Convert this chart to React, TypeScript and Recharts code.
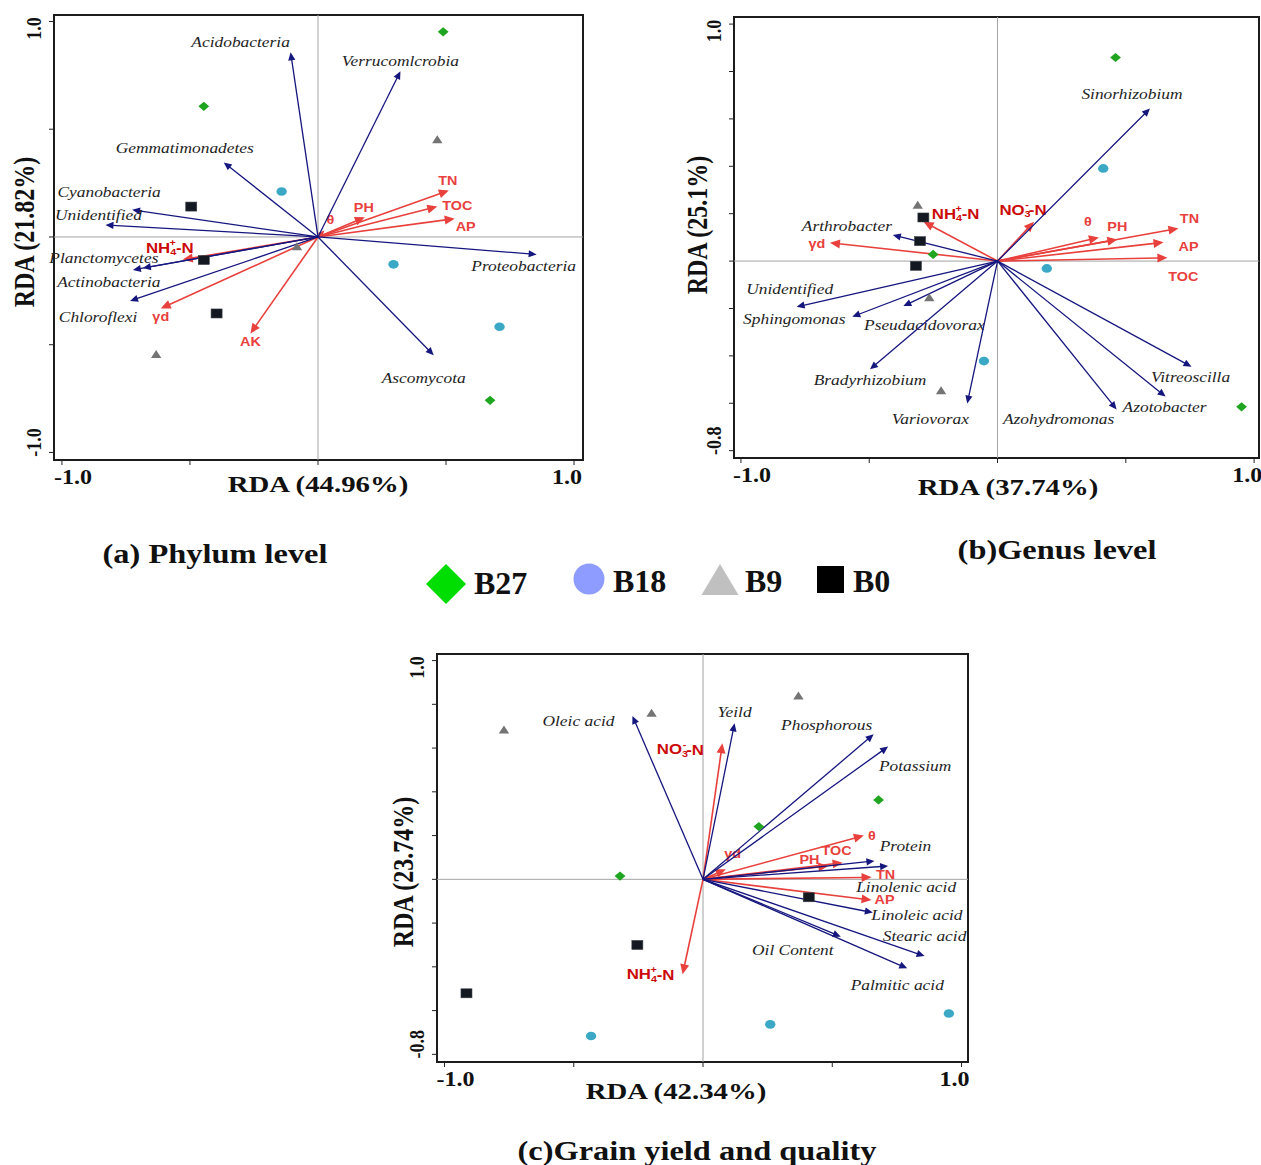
import React from 'react';
import { ScatterChart, Scatter, XAxis, YAxis, ReferenceLine, ReferenceArea } from 'recharts';

const SERIF = '"Liberation Serif", "Times New Roman", serif';
const SANS = '"Liberation Sans", Arial, sans-serif';
const STRETCH = 1.2;

const NAVY = '#16167f';
const RED = '#e8403c';
const DARK_RED = '#cc0a0a';

type Pt = { x: number; y: number };
type Vec = { name: string; x: number; y: number };

// ---------- (a) Phylum level ----------
const A_B27: Pt[] = [{ x: 0.489, y: 0.952 }, { x: -0.446, y: 0.606 }, { x: 0.672, y: -0.758 }];
const A_B18: Pt[] = [{ x: -0.142, y: 0.211 }, { x: 0.295, y: -0.127 }, { x: 0.709, y: -0.417 }];
const A_B9: Pt[] = [{ x: 0.466, y: 0.451 }, { x: -0.082, y: -0.045 }, { x: -0.632, y: -0.546 }];
const A_B0: Pt[] = [{ x: -0.495, y: 0.141 }, { x: -0.446, y: -0.107 }, { x: -0.396, y: -0.355 }];

const A_TAXA: Vec[] = [
  { name: 'Acidobacteria', x: -0.107, y: 0.857 },
  { name: 'Verrucomlcrobia', x: 0.322, y: 0.769 },
  { name: 'Gemmatimonadetes', x: -0.368, y: 0.346 },
  { name: 'Cyanobacteria', x: -0.726, y: 0.126 },
  { name: 'Unidentified', x: -0.83, y: 0.056 },
  { name: 'Proteobacteria', x: 0.854, y: -0.081 },
  { name: 'Planctomycetes', x: -0.723, y: -0.153 },
  { name: 'Actinobacteria', x: -0.684, y: -0.144 },
  { name: 'Chloroflexi', x: -0.734, y: -0.297 },
  { name: 'Ascomycota', x: 0.452, y: -0.549 },
];
const A_ENV: Vec[] = [
  { name: 'TN', x: 0.511, y: 0.216 },
  { name: 'TOC', x: 0.466, y: 0.141 },
  { name: 'AP', x: 0.534, y: 0.085 },
  { name: 'PH', x: 0.183, y: 0.091 },
  { name: 'θ', x: 0.025, y: 0.03 },
  { name: 'NH4+-N', x: -0.528, y: -0.105 },
  { name: 'γd', x: -0.614, y: -0.332 },
  { name: 'AK', x: -0.264, y: -0.448 },
];

// ---------- (b) Genus level ----------
const B_B27: Pt[] = [{ x: 0.46, y: 0.859 }, { x: -0.251, y: 0.028 }, { x: 0.951, y: -0.615 }];
const B_B18: Pt[] = [{ x: 0.412, y: 0.391 }, { x: 0.192, y: -0.031 }, { x: -0.053, y: -0.422 }];
const B_B9: Pt[] = [{ x: -0.311, y: 0.236 }, { x: -0.266, y: -0.155 }, { x: -0.22, y: -0.547 }];
const B_B0: Pt[] = [{ x: -0.289, y: 0.184 }, { x: -0.302, y: 0.084 }, { x: -0.318, y: -0.02 }];

const B_TAXA: Vec[] = [
  { name: 'Sinorhizobium', x: 0.594, y: 0.644 },
  { name: 'Arthrobacter', x: -0.408, y: 0.11 },
  { name: 'Unidentified', x: -0.783, y: -0.193 },
  { name: 'Sphingomonas', x: -0.566, y: -0.235 },
  { name: 'Pseudacidovorax', x: -0.367, y: -0.19 },
  { name: 'Bradyrhizobium', x: -0.497, y: -0.457 },
  { name: 'Variovorax', x: -0.118, y: -0.601 },
  { name: 'Azohydromonas', x: 0.464, y: -0.626 },
  { name: 'Azotobacter', x: 0.655, y: -0.572 },
  { name: 'Vitreoscilla', x: 0.756, y: -0.446 },
];
const B_ENV: Vec[] = [
  { name: 'NH4+-N', x: -0.288, y: 0.166 },
  { name: 'NO3--N', x: 0.142, y: 0.166 },
  { name: 'γd', x: -0.653, y: 0.077 },
  { name: 'θ', x: 0.395, y: 0.1 },
  { name: 'PH', x: 0.467, y: 0.091 },
  { name: 'TN', x: 0.705, y: 0.138 },
  { name: 'AP', x: 0.647, y: 0.079 },
  { name: 'TOC', x: 0.662, y: 0.014 },
];

// ---------- (c) Grain yield and quality ----------
const C_B27: Pt[] = [{ x: 0.679, y: 0.363 }, { x: 0.216, y: 0.241 }, { x: -0.321, y: 0.015 }];
const C_B18: Pt[] = [{ x: 0.951, y: -0.613 }, { x: 0.26, y: -0.663 }, { x: -0.433, y: -0.716 }];
const C_B9: Pt[] = [{ x: 0.369, y: 0.838 }, { x: -0.199, y: 0.759 }, { x: -0.77, y: 0.683 }];
const C_B0: Pt[] = [{ x: 0.409, y: -0.082 }, { x: -0.254, y: -0.3 }, { x: -0.915, y: -0.521 }];

const C_TAXA: Vec[] = [
  { name: 'Oleic acid', x: -0.273, y: 0.747 },
  { name: 'Yeild', x: 0.122, y: 0.713 },
  { name: 'Phosphorous', x: 0.66, y: 0.663 },
  { name: 'Potassium', x: 0.716, y: 0.607 },
  { name: 'Protein', x: 0.663, y: 0.084 },
  { name: 'Linolenic acid', x: 0.716, y: 0.061 },
  { name: 'Linoleic acid', x: 0.657, y: -0.152 },
  { name: 'Stearic acid', x: 0.857, y: -0.351 },
  { name: 'Palmitic acid', x: 0.79, y: -0.407 },
  { name: 'Oil Content', x: 0.533, y: -0.262 },
];
const C_ENV: Vec[] = [
  { name: 'NO3--N', x: 0.075, y: 0.622 },
  { name: 'NH4+-N', x: -0.079, y: -0.434 },
  { name: 'γd', x: 0.088, y: 0.046 },
  { name: 'θ', x: 0.622, y: 0.2 },
  { name: 'TOC', x: 0.54, y: 0.076 },
  { name: 'PH', x: 0.485, y: 0.061 },
  { name: 'TN', x: 0.652, y: 0.009 },
  { name: 'AP', x: 0.652, y: -0.095 },
];

const X_TICKS = [-1, -0.5, 0, 0.5, 1];
const Y_TICKS_A = [-1, -0.5, 0, 0.5, 1];
const Y_TICKS_BC = [-0.8, -0.6, -0.4, -0.2, 0, 0.2, 0.4, 0.6, 0.8, 1];

// label placement, px offset from arrow tip to label centre
const A_LABEL_POS: Record<string, [number, number]> = {
  Acidobacteria: [-50, -10], Verrucomlcrobia: [0, -10], Gemmatimonadetes: [-39, -14],
  Cyanobacteria: [-23, -18], Unidentified: [-7, -10], Proteobacteria: [-13, 12],
  Planctomycetes: [-29, -12], Actinobacteria: [-34, 14], Chloroflexi: [-32, 16], Ascomycota: [-10, 23],
  TN: [-1, -9], TOC: [20, -1], AP: [11, 8], PH: [-1, -9], 'θ': [6, -11],
  'NH4+-N': [-13, -12], 'γd': [0, 8], AK: [0, 8],
};
const B_LABEL_POS: Record<string, [number, number]> = {
  Sinorhizobium: [-18, -14], Arthrobacter: [-46, -9], Unidentified: [-7, -18], Sphingomonas: [-58, 2],
  Pseudacidovorax: [21, 19], Bradyrhizobium: [0, 11], Variovorax: [-37, 16], Azohydromonas: [-58, 10],
  Azotobacter: [-1, 10], Vitreoscilla: [-1, 10],
  'NH4+-N': [32, -8], 'NO3--N': [-11, -12], 'γd': [-13, 1], 'θ': [-11, -15], PH: [0, -13],
  TN: [11, -9], AP: [25, 5], TOC: [16, 19],
};
const C_LABEL_POS: Record<string, [number, number]> = {
  'Oleic acid': [-54, 5], Yeild: [0, -11], Phosphorous: [-47, -9], Potassium: [27, 19], Protein: [31, -15],
  'Linolenic acid': [18, 21], 'Linoleic acid': [44, 2], 'Stearic acid': [0, -20], 'Palmitic acid': [-10, 17],
  'Oil Content': [-48, 13],
  'NO3--N': [-42, 6], 'NH4+-N': [-32, 0], 'γd': [7, -15], 'θ': [8, 0], TOC: [-6, -12], PH: [-19, -6],
  TN: [14, -2], AP: [13, 0],
};

function envLabel(name: string): React.ReactNode {
  if (name === 'NH4+-N')
    return (
      <>
        NH<tspan fontSize={9} dy={4}>4</tspan>
        <tspan fontSize={9} dx={-5.5} dy={-9}>+</tspan>
        <tspan dy={5}>-N</tspan>
      </>
    );
  if (name === 'NO3--N')
    return (
      <>
        NO<tspan fontSize={9} dy={4}>3</tspan>
        <tspan fontSize={9} dx={-4.5} dy={-9}>-</tspan>
        <tspan dy={5}>-N</tspan>
      </>
    );
  return name;
}

function arrowShape(
  color: string,
  width: number,
  headLen: number,
  headHalf: number,
  label: React.ReactNode,
  off: [number, number],
  textStyle: any,
) {
  return (p: any) => {
    const x1 = Number(p.x1), y1 = Number(p.y1), x2 = Number(p.x2), y2 = Number(p.y2);
    const dx = x2 - x1, dy = y2 - y1;
    const len = Math.hypot(dx, dy) || 1;
    const ux = dx / len, uy = dy / len;
    const h = Math.min(headLen, len * 0.7);
    const hw = headHalf * (h / headLen);
    const bx = x2 - ux * h, by = y2 - uy * h;
    const pts = `${x2},${y2} ${bx - uy * hw},${by + ux * hw} ${bx + uy * hw},${by - ux * hw}`;
    return (
      <g>
        <line x1={x1} y1={y1} x2={bx + ux} y2={by + uy} stroke={color} strokeWidth={width} />
        <polygon points={pts} fill={color} />
        <g transform={`translate(${x2 + off[0]},${y2 + off[1]}) scale(${STRETCH},1)`}>
          <text x={0} y={0} textAnchor="middle" dominantBaseline="central" {...textStyle}>
            {label}
          </text>
        </g>
      </g>
    );
  };
}

const diamond = (p: any) => (
  <polygon
    points={`${p.cx},${p.cy - 4.6} ${p.cx + 5.4},${p.cy} ${p.cx},${p.cy + 4.6} ${p.cx - 5.4},${p.cy}`}
    fill="#1fa51f"
  />
);
const circle = (p: any) => <ellipse cx={p.cx} cy={p.cy} rx={5.2} ry={4.3} fill="#3ba9c6" />;
const triangle = (p: any) => (
  <polygon
    points={`${p.cx},${p.cy - 4.5} ${p.cx + 5.2},${p.cy + 3.5} ${p.cx - 5.2},${p.cy + 3.5}`}
    fill="#747474"
  />
);
const square = (p: any) => (
  <rect x={p.cx - 5.5} y={p.cy - 4.5} width={11} height={9} fill="#141821" stroke="#3a3f48" strokeWidth={0.6} />
);

const xTick = (p: any) => {
  const v = p.payload.value;
  if (Math.abs(Math.abs(v) - 1) > 1e-6) return <g />;
  const dx = v < 0 ? 11 : -7;
  return (
    <g transform={`translate(${p.x + dx},${p.y + 10}) scale(${STRETCH},1)`}>
      <text x={0} y={0} textAnchor="middle" dominantBaseline="central" fontFamily={SERIF} fontWeight="bold" fontSize={20} fill="#111">
        {v.toFixed(1)}
      </text>
    </g>
  );
};

const makeYTick = (ticks: number[]) => (p: any) => {
  const v = p.payload.value;
  const top = ticks[ticks.length - 1];
  const bottom = ticks[0];
  let cy: number;
  if (Math.abs(v - top) < 1e-6) cy = p.y + 7;
  else if (Math.abs(v - bottom) < 1e-6) cy = p.y - 10;
  else return <g />;
  return (
    <g transform={`translate(${p.x - 14},${cy}) scale(${STRETCH},1) rotate(-90)`}>
      <text x={0} y={0} textAnchor="middle" dominantBaseline="central" fontFamily={SERIF} fontWeight="bold" fontSize={18} fill="#111">
        {v.toFixed(1)}
      </text>
    </g>
  );
};

interface PanelCfg {
  left: number;
  top: number;
  width: number;
  height: number;
  margin: { top: number; right: number; bottom: number; left: number };
  xDomain: [number, number];
  yDomain: [number, number];
  yTicks: number[];
  b27: Pt[];
  b18: Pt[];
  b9: Pt[];
  b0: Pt[];
  taxa: Vec[];
  env: Vec[];
  labelPos: Record<string, [number, number]>;
}

const PANELS: PanelCfg[] = [
  {
    left: 0, top: 0, width: 600, height: 500,
    margin: { top: 15, right: 17, bottom: 10, left: 10 },
    xDomain: [-1.031, 1.035], yDomain: [-1.035, 1.03], yTicks: Y_TICKS_A,
    b27: A_B27, b18: A_B18, b9: A_B9, b0: A_B0, taxa: A_TAXA, env: A_ENV, labelPos: A_LABEL_POS,
  },
  {
    left: 680, top: 0, width: 581, height: 500,
    margin: { top: 17, right: 2, bottom: 12, left: 10 },
    xDomain: [-1.027, 1.019], yDomain: [-0.831, 1.03], yTicks: Y_TICKS_BC,
    b27: B_B27, b18: B_B18, b9: B_B9, b0: B_B0, taxa: B_TAXA, env: B_ENV, labelPos: B_LABEL_POS,
  },
  {
    left: 380, top: 640, width: 600, height: 480,
    margin: { top: 14, right: 12, bottom: 28, left: 13 },
    xDomain: [-1.029, 1.025], yDomain: [-0.835, 1.03], yTicks: Y_TICKS_BC,
    b27: C_B27, b18: C_B18, b9: C_B9, b0: C_B0, taxa: C_TAXA, env: C_ENV, labelPos: C_LABEL_POS,
  },
];

const taxaText = { fontFamily: SERIF, fontStyle: 'italic', fontSize: 14.5, fill: '#1e1e1e' };
const envText = { fontFamily: SANS, fontWeight: 'bold', fontSize: 12, fill: RED };
const nText = { fontFamily: SANS, fontWeight: 'bold', fontSize: 14, fill: DARK_RED };

function Panel({ cfg }: { cfg: PanelCfg }) {
  const [x0, x1] = cfg.xDomain;
  const [y0, y1] = cfg.yDomain;
  return (
    <div style={{ position: 'absolute', left: cfg.left, top: cfg.top }}>
      <ScatterChart width={cfg.width} height={cfg.height} margin={cfg.margin}>
        <XAxis
          type="number"
          dataKey="x"
          domain={cfg.xDomain}
          ticks={X_TICKS}
          interval={0}
          allowDataOverflow
          axisLine={false}
          tickLine={{ stroke: '#222' }}
          tickSize={5}
          height={30}
          tick={xTick}
        />
        <YAxis
          type="number"
          dataKey="y"
          domain={cfg.yDomain}
          ticks={cfg.yTicks}
          interval={0}
          allowDataOverflow
          axisLine={false}
          tickLine={{ stroke: '#222' }}
          tickSize={5}
          width={44}
          tick={makeYTick(cfg.yTicks)}
        />
        <ReferenceLine x={0} stroke="#a3a3a3" strokeWidth={1} ifOverflow="visible" />
        <ReferenceLine y={0} stroke="#a3a3a3" strokeWidth={1} ifOverflow="visible" />
        <ReferenceArea x1={x0} x2={x1} y1={y0} y2={y1} fill="none" stroke="#1c1c1c" strokeWidth={2} ifOverflow="visible" />
        {cfg.env.map((e) => (
          <ReferenceLine
            key={'env-' + e.name}
            segment={[{ x: 0, y: 0 }, { x: e.x, y: e.y }]}
            ifOverflow="visible"
            shape={arrowShape(
              RED,
              1.6,
              10,
              4.5,
              envLabel(e.name),
              cfg.labelPos[e.name] || [0, -10],
              e.name.startsWith('N') ? nText : envText,
            )}
          />
        ))}
        {cfg.taxa.map((t) => (
          <ReferenceLine
            key={'taxa-' + t.name}
            segment={[{ x: 0, y: 0 }, { x: t.x, y: t.y }]}
            ifOverflow="visible"
            shape={arrowShape(NAVY, 1.3, 8, 3.6, t.name, cfg.labelPos[t.name] || [0, -10], taxaText)}
          />
        ))}
        <Scatter name="B27" data={cfg.b27} shape={diamond} isAnimationActive={false} />
        <Scatter name="B18" data={cfg.b18} shape={circle} isAnimationActive={false} />
        <Scatter name="B9" data={cfg.b9} shape={triangle} isAnimationActive={false} />
        <Scatter name="B0" data={cfg.b0} shape={square} isAnimationActive={false} />
      </ScatterChart>
    </div>
  );
}

function HText({ x, y, size, children, rotate = false }: { x: number; y: number; size: number; children: React.ReactNode; rotate?: boolean }) {
  return (
    <g transform={`translate(${x},${y}) scale(${STRETCH},1)${rotate ? ' rotate(-90)' : ''}`}>
      <text x={0} y={0} textAnchor="middle" dominantBaseline="central" fontFamily={SERIF} fontWeight="bold" fontSize={size} fill="#111">
        {children}
      </text>
    </g>
  );
}

const AXIS_TITLES = [
  { x: 318, y: 484, text: 'RDA (44.96%)', rotate: false },
  { x: 24, y: 232, text: 'RDA (21.82%)', rotate: true },
  { x: 1008, y: 487, text: 'RDA (37.74%)', rotate: false },
  { x: 697, y: 225, text: 'RDA (25.1%)', rotate: true },
  { x: 676, y: 1091, text: 'RDA (42.34%)', rotate: false },
  { x: 403, y: 872, text: 'RDA (23.74%)', rotate: true },
];

const PANEL_TITLES = [
  { x: 215, y: 553, text: '(a) Phylum level' },
  { x: 1057, y: 549, text: '(b)Genus level' },
  { x: 697, y: 1150, text: '(c)Grain yield and quality' },
];

export default function App() {
  return (
    <div style={{ position: 'absolute', left: 0, top: 0, width: 1261, height: 1165, background: '#fff', overflow: 'hidden' }}>
      {PANELS.map((p, i) => (
        <Panel key={i} cfg={p} />
      ))}
      <svg width={1261} height={1165} style={{ position: 'absolute', left: 0, top: 0, pointerEvents: 'none' }}>
        {AXIS_TITLES.map((t) => (
          <HText key={t.text} x={t.x} y={t.y} size={24} rotate={t.rotate}>
            {t.text}
          </HText>
        ))}
        {PANEL_TITLES.map((t) => (
          <HText key={t.text} x={t.x} y={t.y} size={27}>
            {t.text}
          </HText>
        ))}
        {/* legend */}
        <polygon points="446,564 466,584 446,604 426,584" fill="#00dd00" />
        <text x={474} y={594} fontFamily={SERIF} fontWeight="bold" fontSize={32} fill="#111">B27</text>
        <circle cx={589} cy={579} r={15.5} fill="#8e9bff" />
        <text x={613} y={592} fontFamily={SERIF} fontWeight="bold" fontSize={32} fill="#111">B18</text>
        <polygon points="720,564 738.5,595 701.5,595" fill="#c0c0c0" />
        <text x={745} y={592} fontFamily={SERIF} fontWeight="bold" fontSize={32} fill="#111">B9</text>
        <rect x={817} y={566} width={27} height={27} fill="#000" />
        <text x={853} y={592} fontFamily={SERIF} fontWeight="bold" fontSize={32} fill="#111">B0</text>
      </svg>
    </div>
  );
}
